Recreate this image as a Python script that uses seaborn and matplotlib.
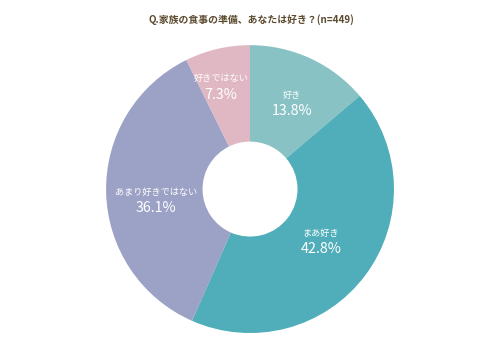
import matplotlib
matplotlib.use("Agg")
import matplotlib.pyplot as plt
import seaborn as sns
import numpy as np

sns.set_theme(style="white")
plt.rcParams['font.family'] = ['Noto Sans CJK JP', 'DejaVu Sans']
plt.rcParams['hatch.linewidth'] = 3.5

title = "Q.家族の食事の準備、あなたは好き？(n=449)"
categories = ["好き", "まあ好き", "あまり好きではない", "好きではない"]
values = [13.8, 42.8, 36.1, 7.3]
colors = ["#8ecacd", "#52b5c0", "#a1a8cd", "#e9bfcb"]
label_radius = [0.665, 0.61, 0.66, 0.74]
label_angle_shift = [-1, 0.5, 5.5, 2.7]

fig = plt.figure(figsize=(4.89, 3.63), dpi=100)
ax = fig.add_axes([0.2168, 0.0826, 0.589, 0.793])

wedges, _ = ax.pie(values, colors=colors, startangle=90, counterclock=False,
                   radius=1.0, wedgeprops=dict(width=0.67, linewidth=0))
# subtle diagonal stripes
ax.pie(values, colors=["none"] * 4, startangle=90, counterclock=False,
       radius=1.0, wedgeprops=dict(width=0.67, linewidth=0, hatch="\\\\\\\\\\\\\\\\",
                                   edgecolor=(0, 0, 0, 0.035), fill=False))
ax.set_xlim(-1, 1)
ax.set_ylim(-1, 1)
ax.set_aspect("equal")
ax.axis("off")

for w, cat, val, r, sh in zip(wedges, categories, values, label_radius, label_angle_shift):
    ang = np.deg2rad((w.theta1 + w.theta2) / 2 + sh)
    x, y = r * np.cos(ang), r * np.sin(ang)
    ax.text(x, y + 0.055, cat, ha="center", va="center", color="white", fontsize=6.6)
    ax.text(x, y - 0.055, f"{val:.1f}%", ha="center", va="center", color="white", fontsize=10.3)

fig.text(251 / 489, 1 - 20 / 363, title, ha="center", va="center", fontsize=7.1,
         fontweight="bold", color="#5b4a2e")

fig.savefig("out.png", dpi=100, facecolor="white")
